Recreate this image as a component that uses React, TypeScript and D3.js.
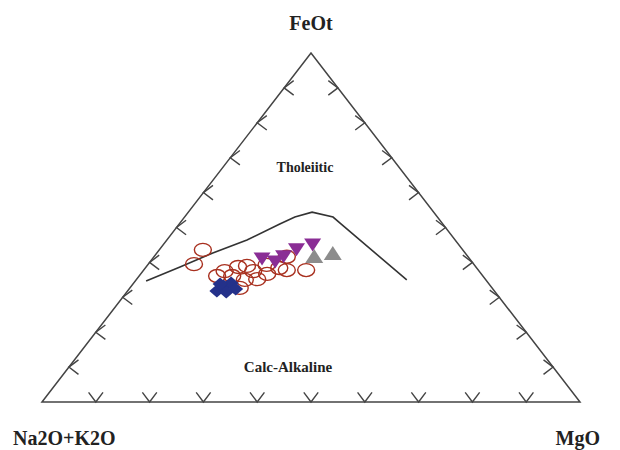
import React from "react";
import * as d3 from "d3";

// Ternary data as [A (Na2O+K2O), F (FeOt), M (MgO)] fractions
const boundaryLine: [number, number, number][] = [
  [0.633, 0.347, 0.020],
  [0.550, 0.387, 0.063],
  [0.469, 0.427, 0.104],
  [0.387, 0.464, 0.149],
  [0.303, 0.510, 0.187],
  [0.265, 0.530, 0.205],
  [0.226, 0.544, 0.230],
  [0.194, 0.530, 0.276],
  [0.190, 0.513, 0.297],
  [0.147, 0.350, 0.503],
];

const circleSamples: [number, number, number][] = [
  [0.483, 0.436, 0.081],
  [0.520, 0.395, 0.085],
  [0.473, 0.375, 0.152],
  [0.442, 0.387, 0.171],
  [0.424, 0.390, 0.186],
  [0.420, 0.375, 0.205],
  [0.448, 0.350, 0.202],
  [0.469, 0.327, 0.204],
  [0.424, 0.352, 0.224],
  [0.398, 0.367, 0.235],
  [0.386, 0.393, 0.221],
  [0.367, 0.384, 0.249],
  [0.337, 0.416, 0.247],
  [0.356, 0.378, 0.266],
  [0.320, 0.378, 0.302],
  [0.466, 0.361, 0.173],
  [0.494, 0.361, 0.145],
];

const diamondSamples: [number, number, number][] = [
  [0.516, 0.318, 0.166],
  [0.496, 0.332, 0.172],
  [0.478, 0.341, 0.181],
  [0.478, 0.324, 0.198],
  [0.500, 0.315, 0.185],
  [0.500, 0.338, 0.162],
];

const purpleSamples: [number, number, number][] = [
  [0.386, 0.410, 0.204],
  [0.366, 0.401, 0.233],
  [0.343, 0.416, 0.241],
  [0.309, 0.436, 0.255],
  [0.272, 0.450, 0.278],
];

const graySamples: [number, number, number][] = [
  [0.285, 0.418, 0.297],
  [0.246, 0.427, 0.327],
];

const tickFractions = [0.1, 0.2, 0.3, 0.4, 0.5, 0.6, 0.7, 0.8, 0.9];
const vertexLabels = ["Na2O+K2O", "FeOt", "MgO"];
const fieldLabels = ["Tholeiitic", "Calc-Alkaline"];

const W = 620;
const H = 450;

const xScale = d3.scaleLinear().domain([0, 1]).range([42, 580]);
const yScale = d3.scaleLinear().domain([0, 1]).range([402, 53]);

function project(p: [number, number, number]): [number, number] {
  const [a, f, m] = p;
  const s = a + f + m;
  const ff = f / s;
  const mm = m / s;
  return [xScale(mm + ff / 2), yScale(ff)];
}

const FONT = "'Liberation Serif', 'Times New Roman', serif";

export default function App() {
  const lineGen = d3
    .line<[number, number, number]>()
    .x((d) => project(d)[0])
    .y((d) => project(d)[1]);

  const A = project([1, 0, 0]);
  const F = project([0, 1, 0]);
  const M = project([0, 0, 1]);

  const L = 12;
  const ang = (37 * Math.PI) / 180;
  const chevron = (p: [number, number], dx: number, dy: number) => {
    const r = (t: number) => [
      dx * Math.cos(t) - dy * Math.sin(t),
      dx * Math.sin(t) + dy * Math.cos(t),
    ];
    const [ax, ay] = r(ang);
    const [bx, by] = r(-ang);
    return `M${p[0] + ax * L},${p[1] + ay * L}L${p[0]},${p[1]}L${p[0] + bx * L},${p[1] + by * L}`;
  };

  const ticks: string[] = [];
  tickFractions.forEach((t) => {
    ticks.push(chevron(project([1 - t, t, 0]), 1, 0)); // left edge
    ticks.push(chevron(project([0, t, 1 - t]), -1, 0)); // right edge
    ticks.push(chevron(project([1 - t, 0, t]), 0, -1)); // bottom edge
  });

  const diamond = (w: number, h: number) => `M0,${-h / 2}L${w / 2},0L0,${h / 2}L${-w / 2},0Z`;
  const triDown = (w: number, h: number) => `M${-w / 2},${-h / 2}L${w / 2},${-h / 2}L0,${h / 2}Z`;
  const triUp = (w: number, h: number) => `M${-w / 2},${h / 2}L${w / 2},${h / 2}L0,${-h / 2}Z`;

  return (
    <svg width={W} height={H} style={{ position: "absolute", left: 0, top: 0, background: "#fff" }}>
      <rect width={W} height={H} fill="#fff" />
      <path
        d={`M${A[0]},${A[1]}L${F[0]},${F[1]}L${M[0]},${M[1]}Z`}
        fill="none"
        stroke="#444"
        strokeWidth={1.5}
      />
      {ticks.map((d, i) => (
        <path key={i} d={d} fill="none" stroke="#444" strokeWidth={1.4} />
      ))}
      <path d={lineGen(boundaryLine) || ""} fill="none" stroke="#333" strokeWidth={1.6} />

      {circleSamples.map((p, i) => {
        const [x, y] = project(p);
        return <ellipse key={"c" + i} cx={x} cy={y} rx={8.5} ry={6.5} fill="none" stroke="#a8301f" strokeWidth={1.4} />;
      })}
      {diamondSamples.map((p, i) => {
        const [x, y] = project(p);
        return <path key={"d" + i} d={diamond(15, 13)} transform={`translate(${x},${y})`} fill="#24318a" />;
      })}
      {purpleSamples.map((p, i) => {
        const [x, y] = project(p);
        return <path key={"p" + i} d={triDown(17, 13)} transform={`translate(${x},${y})`} fill="#8a2d95" />;
      })}
      {graySamples.map((p, i) => {
        const [x, y] = project(p);
        return <path key={"g" + i} d={triUp(18, 14)} transform={`translate(${x},${y})`} fill="#8c8c8c" />;
      })}

      <text x={F[0]} y={30} textAnchor="middle" fontFamily={FONT} fontWeight="bold" fontSize={20} fill="#222">
        {vertexLabels[1]}
      </text>
      <text x={13} y={445} textAnchor="start" fontFamily={FONT} fontWeight="bold" fontSize={20} fill="#222">
        {vertexLabels[0]}
      </text>
      <text x={600} y={445} textAnchor="end" fontFamily={FONT} fontWeight="bold" fontSize={20} fill="#222">
        {vertexLabels[2]}
      </text>
      <text x={305} y={172} textAnchor="middle" fontFamily={FONT} fontWeight="bold" fontSize={14} fill="#222">
        {fieldLabels[0]}
      </text>
      <text x={288} y={372} textAnchor="middle" fontFamily={FONT} fontWeight="bold" fontSize={15} fill="#222">
        {fieldLabels[1]}
      </text>
    </svg>
  );
}
